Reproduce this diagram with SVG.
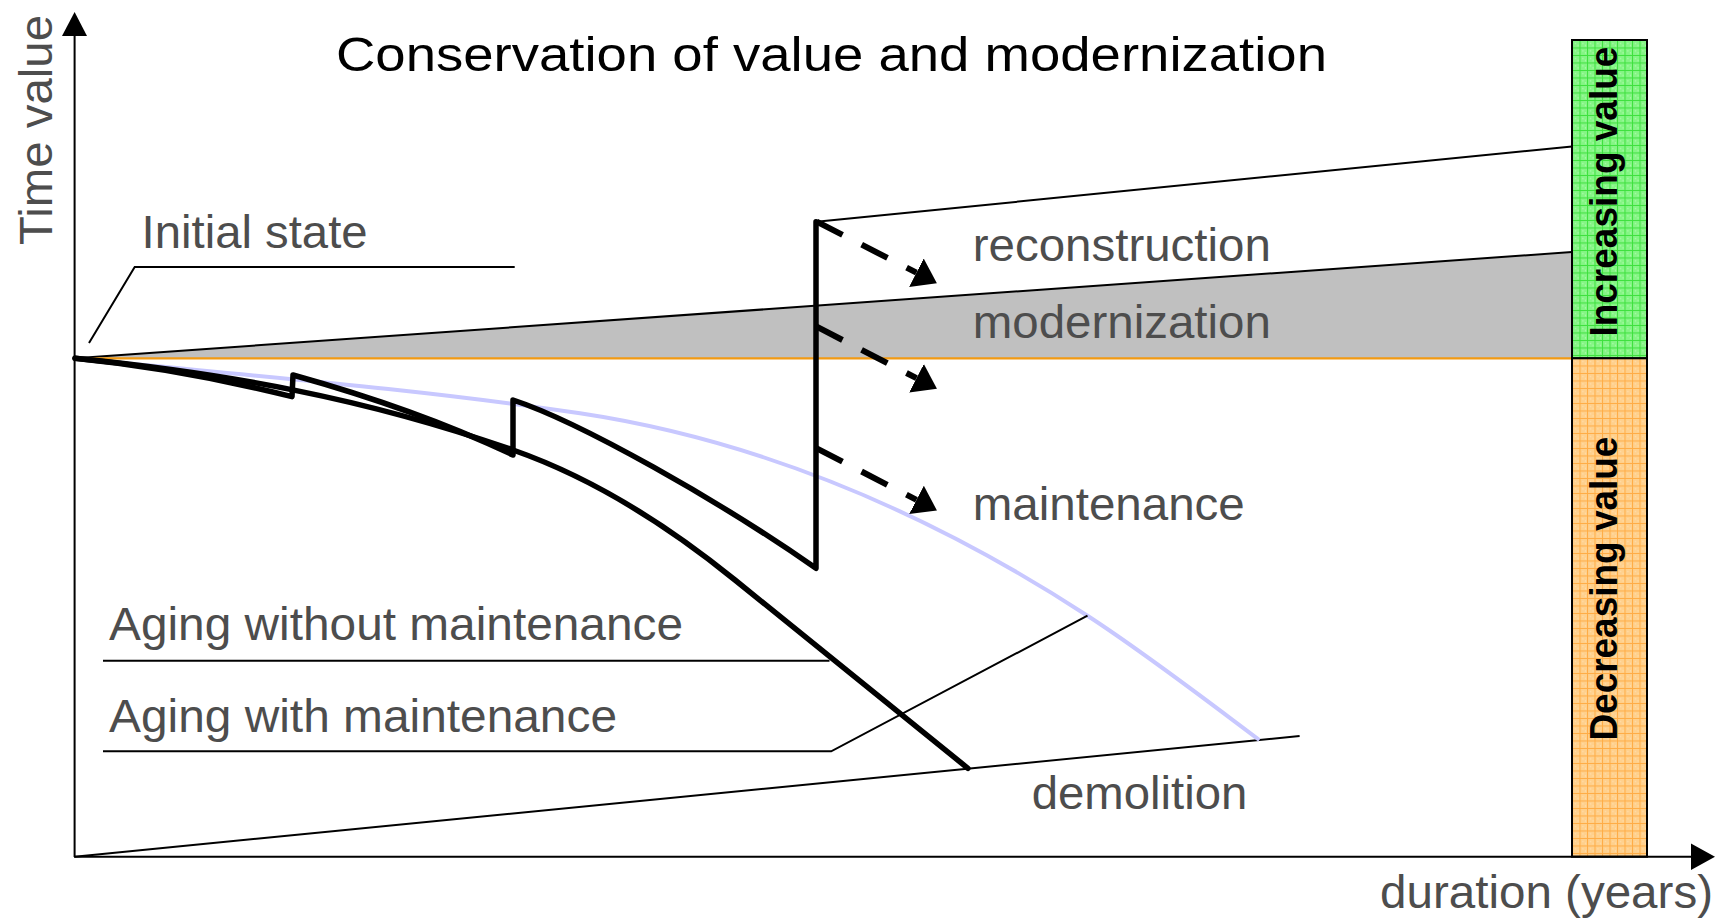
<svg xmlns="http://www.w3.org/2000/svg" width="1715" height="918" viewBox="0 0 1715 918">
  <style>
    .label { font-family: "Liberation Sans", Arial, sans-serif; font-size: 47px; fill: #4d4d4d; }
    .title { font-family: "Liberation Sans", Arial, sans-serif; font-size: 48px; fill: #000; }
    .bar-label { font-family: "Liberation Sans", Arial, sans-serif; font-size: 38px; font-weight: bold; fill: #000; }
    .thin { fill: none; stroke: #000; stroke-width: 2; }
    .axis { fill: none; stroke: #000; stroke-width: 2; }
    .thick { fill: none; stroke: #000; stroke-width: 5.5; stroke-linejoin: round; stroke-linecap: round; }
    .dash { fill: none; stroke: #000; stroke-width: 6; stroke-dasharray: 29 21.5; marker-end: url(#head); }
  </style>
  <defs>
    <marker id="head" markerUnits="userSpaceOnUse" markerWidth="30" markerHeight="40" viewBox="0 -20 30 40" refX="0" refY="0" orient="auto">
      <path d="M0,-16 L23,0 L0,16 z" fill="#000"/>
    </marker>
    <pattern id="greenGrid" width="7.5" height="7.5" patternUnits="userSpaceOnUse" x="1572" y="40">
      <rect width="7.5" height="7.5" fill="#84f584"/>
      <path d="M0,0.5 H7.5 M0.5,0 V7.5" stroke="#3ee03e" stroke-width="1"/>
      <rect x="3" y="3" width="1" height="1" fill="#c8ffc8"/>
      <rect x="5.5" y="5" width="1" height="1" fill="#c8ffc8"/>
    </pattern>
    <pattern id="orangeGrid" width="7.5" height="7.5" patternUnits="userSpaceOnUse" x="1572" y="358">
      <rect width="7.5" height="7.5" fill="#ffd08c"/>
      <path d="M0,0.5 H7.5 M0.5,0 V7.5" stroke="#ffac45" stroke-width="1"/>
      <rect x="3" y="3" width="1" height="1" fill="#ffe6bf"/>
      <rect x="5.5" y="5" width="1" height="1" fill="#ffe6bf"/>
    </pattern>
  </defs>

  <rect width="1715" height="918" fill="#fff"/>

  <!-- modernization band between the base level and the rising upper edge -->
  <g id="modernization-band">
    <polygon points="75,358.3 1572,252 1572,358.3" fill="#c0c0c0"/>
    <line x1="75" y1="358.3" x2="1572" y2="252" class="thin"/>
    <line x1="75" y1="358.3" x2="1572" y2="358.3" stroke="#f29a12" stroke-width="2.2"/>
  </g>

  <!-- value bars on the right -->
  <g id="increasing-value">
    <rect x="1572" y="40" width="75" height="318.3" fill="url(#greenGrid)" stroke="#000" stroke-width="2"/>
    <text class="bar-label" transform="translate(1617,336.6) rotate(-90)" textLength="290" lengthAdjust="spacingAndGlyphs">Increasing value</text>
  </g>
  <g id="decreasing-value">
    <rect x="1572" y="358.3" width="75" height="498.4" fill="url(#orangeGrid)" stroke="#000" stroke-width="2"/>
    <text class="bar-label" transform="translate(1617,740.6) rotate(-90)" textLength="304" lengthAdjust="spacingAndGlyphs">Decreasing value</text>
  </g>

  <!-- axes -->
  <g id="axes">
    <line x1="74.6" y1="857" x2="74.6" y2="34" class="axis"/>
    <polygon points="74.6,12 62,36 87,36" fill="#000"/>
    <line x1="74" y1="856.7" x2="1693" y2="856.7" class="axis"/>
    <polygon points="1715,856.7 1691,843.5 1691,870" fill="#000"/>
    <text class="label" transform="translate(51.7,245) rotate(-90)" font-size="46" textLength="230" lengthAdjust="spacingAndGlyphs">Time value</text>
    <text class="label" x="1380" y="908.3" font-size="45" textLength="333" lengthAdjust="spacingAndGlyphs">duration (years)</text>
  </g>

  <g id="title">
    <text class="title" x="336" y="71" textLength="991" lengthAdjust="spacingAndGlyphs">Conservation of value and modernization</text>
  </g>

  <!-- limit lines: reconstruction ceiling and demolition floor -->
  <g id="limits">
    <line x1="816.5" y1="221.7" x2="1572" y2="146.5" class="thin"/>
    <line x1="74.6" y1="856.7" x2="1299.6" y2="736" class="thin"/>
  </g>

  <!-- aging curves -->
  <g id="aging-reference">
    <path d="M75,358.3 C243,375.1 412,388.1 580,413.3 C749,438.7 918.3,505.7 1087.5,615.7 C1145,653.1 1202,697 1259.4,740" fill="none" stroke="#c8c8ff" stroke-width="4"/>
  </g>
  <g id="aging-without-maintenance">
    <path class="thick" d="M75,358.3 C225,373.3 363,397.5 513,450 C587,475.9 661,520 735,580 L967.9,768.3"/>
  </g>
  <g id="aging-with-maintenance">
    <path class="thick" d="M75,358.3 C150,365.8 220,378.7 292,396.7 L293,375 C366,395.4 440,420 513,455 L513,400 C580,422 720,501.1 816,568.3 L816,221.7"/>
  </g>

  <!-- leader lines for the labels -->
  <g id="connectors">
    <polyline points="89,343 134.7,267 514.7,267" class="thin"/>
    <line x1="103" y1="660.7" x2="829.5" y2="660.7" class="thin"/>
    <polyline points="103,751.3 831.2,751.3 1087.5,615.7" class="thin"/>
    <line x1="816.7" y1="221.7" x2="916.4" y2="272.7" class="dash"/>
    <line x1="816.7" y1="326.7" x2="916.5" y2="378.2" class="dash"/>
    <line x1="816.7" y1="448.3" x2="916.5" y2="499.9" class="dash"/>
  </g>

  <!-- labels -->
  <g id="initial-state">
    <text class="label" x="141.6" y="248" textLength="226" lengthAdjust="spacingAndGlyphs">Initial state</text>
  </g>
  <g id="reconstruction">
    <text class="label" x="972.8" y="261" textLength="298" lengthAdjust="spacingAndGlyphs">reconstruction</text>
  </g>
  <g id="modernization">
    <text class="label" x="972.8" y="338.3" textLength="298" lengthAdjust="spacingAndGlyphs">modernization</text>
  </g>
  <g id="maintenance">
    <text class="label" x="972.8" y="520" textLength="272" lengthAdjust="spacingAndGlyphs">maintenance</text>
  </g>
  <g id="aging-without-label">
    <text class="label" x="109" y="640" textLength="574" lengthAdjust="spacingAndGlyphs">Aging without maintenance</text>
  </g>
  <g id="aging-with-label">
    <text class="label" x="109" y="731.7" textLength="508" lengthAdjust="spacingAndGlyphs">Aging with maintenance</text>
  </g>
  <g id="demolition">
    <text class="label" x="1031.7" y="809.3" textLength="215.6" lengthAdjust="spacingAndGlyphs">demolition</text>
  </g>
</svg>
